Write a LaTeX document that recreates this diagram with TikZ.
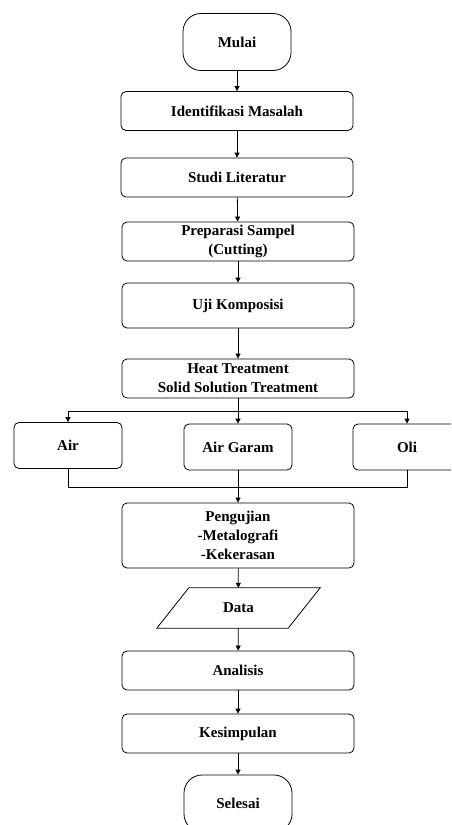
\documentclass[tikz,border=0pt]{standalone}
\usepackage{fontspec}
\setmainfont{Liberation Serif}
\usetikzlibrary{arrows.meta}
\newcommand\boxfont{\bfseries\fontsize{15}{19}\selectfont}
\tikzset{
  proses/.style={draw, line width=0.8pt, rounded corners=5pt, align=center, inner sep=0pt,
    minimum width=232pt, minimum height=39pt, font=\boxfont},
  pilihan/.style={proses, minimum width=108pt, minimum height=46pt},
  terminal/.style={proses, rounded corners=18pt, minimum width=108pt, minimum height=57pt},
  masukan/.style={inner sep=0pt, minimum width=131pt, minimum height=40pt, font=\boxfont},
  panah/.style={-{Triangle[length=5pt,width=5pt]}, line width=0.8pt},
  garis/.style={line width=0.8pt}
}

\begin{document}
\begin{tikzpicture}[x=1pt, y=-1pt]

\clip (0,0) rectangle (451,825);

\node[terminal] (mulai) at (237,42) {Mulai};

\node[proses] (identifikasi) at (237,111) {Identifikasi Masalah};

\node[proses] (studi) at (237,177.5) {Studi Literatur};

\node[proses] (preparasi) at (238,241.5) {Preparasi Sampel\\(Cutting)};

\node[proses, minimum height=45pt] (uji) at (238,305.5) {Uji Komposisi};

\node[proses] (heat) at (238,378.5) {Heat Treatment\\Solid Solution Treatment};

\node[pilihan] (air) at (68,445.5) {Air};

\node[pilihan] (garam) at (238,447) {Air Garam};

\node[pilihan] (oli) at (407,447) {Oli};

\node[proses, minimum height=65pt] (pengujian) at (238,535.5) {Pengujian\\-Metalografi\\-Kekerasan};

\node[masukan] (data) at (238.5,608) {Data};
\draw[garis] ([xshift=16pt]data.north west) -- ([xshift=16pt]data.north east)
  -- ([xshift=-16pt]data.south east) -- ([xshift=-16pt]data.south west) -- cycle;

\node[proses] (analisis) at (238,670.5) {Analisis};

\node[proses] (kesimpulan) at (238,733.5) {Kesimpulan};

\node[terminal] (selesai) at (238,803.5) {Selesai};

\coordinate (cabang) at (238,411);
\coordinate (gabung) at (238,487);

\draw[panah] (mulai) -- (identifikasi);
\draw[panah] (identifikasi) -- (studi);
\draw[panah] (studi) -- (preparasi);
\draw[panah] (preparasi) -- (uji);
\draw[panah] (uji) -- (heat);
\draw[garis] (heat) -- (cabang);
\draw[panah] (cabang) -| (air);
\draw[panah] (cabang) -- (garam);
\draw[panah] (cabang) -| (oli);
\draw[garis] (air) |- (gabung);
\draw[garis] (oli) |- (gabung);
\draw[panah] (garam) -- (pengujian);
\draw[panah] (pengujian) -- (data);
\draw[panah] (data) -- (analisis);
\draw[panah] (analisis) -- (kesimpulan);
\draw[panah] (kesimpulan) -- (selesai);

\end{tikzpicture}
\end{document}
